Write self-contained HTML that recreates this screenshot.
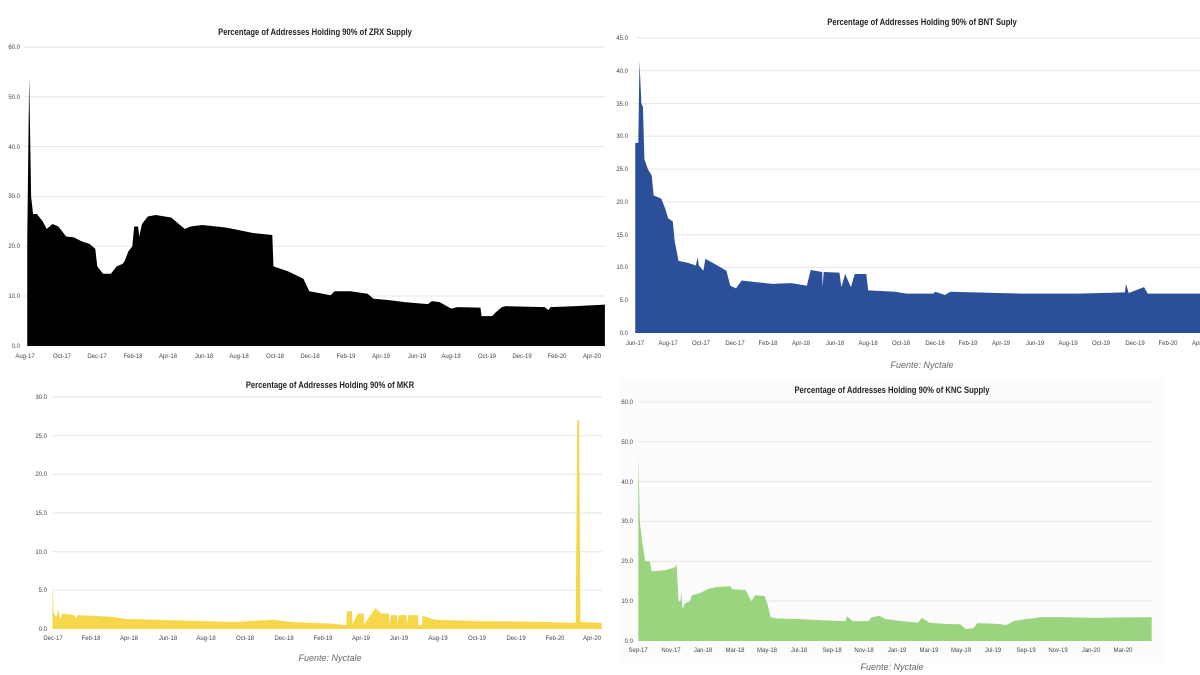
<!DOCTYPE html>
<html><head><meta charset="utf-8"><style>
html,body{margin:0;padding:0;background:#fff;}
svg{display:block;font-family:"Liberation Sans",sans-serif;}
.t{font-weight:bold;font-size:9px;fill:#222;}
.y{font-size:6px;fill:#444;}
.x{font-size:6px;fill:#444;}
.f{font-size:9px;font-style:italic;fill:#666;}
.g{stroke:#e6e6e6;stroke-width:1;}
</style></head><body>
<svg width="1200" height="675" viewBox="0 0 1200 675" xmlns="http://www.w3.org/2000/svg">
<rect width="1200" height="675" fill="#fff"/>
<rect x="620" y="378" width="545" height="285" fill="#fcfcfc"/>

<!-- Chart 1 ZRX -->
<text class="t" x="315" y="35" text-anchor="middle" transform="translate(315,0) scale(0.85,1) translate(-315,0)">Percentage of Addresses Holding 90% of ZRX Supply</text>
<g class="g">
<line x1="24" x2="605" y1="47" y2="47"/><line x1="24" x2="605" y1="96.8" y2="96.8"/><line x1="24" x2="605" y1="146.6" y2="146.6"/><line x1="24" x2="605" y1="196.4" y2="196.4"/><line x1="24" x2="605" y1="246.2" y2="246.2"/><line x1="24" x2="605" y1="296" y2="296"/>
</g>
<g class="y" text-anchor="end">
<text x="20" y="49">60.0</text><text x="20" y="99">50.0</text><text x="20" y="149">40.0</text><text x="20" y="198">30.0</text><text x="20" y="248">20.0</text><text x="20" y="298">10.0</text><text x="20" y="348">0.0</text>
</g>
<g transform="matrix(0.389,0,0,-4.98,0,346)">
<path fill="#000" d="M70,0 L70,21 75,54 80,30 85,26.5 95,26.5 110,25 120,23.5 135,24.5 150,24 170,22 190,21.8 210,21 230,20.5 245,19.5 250,16 265,14.5 285,14.5 300,16 315,16.5 320,17 330,19 340,20 345,24 355,24 358,22 365,24.5 380,26 400,26.3 440,25.8 475,23.5 490,24 520,24.3 580,23.8 600,23.5 650,22.7 700,22.3 703,16 740,15 780,13.5 795,11 850,10.2 860,11 900,11 945,10.5 960,9.5 1000,9.2 1040,8.8 1100,8.4 1110,9 1130,8.8 1160,7.5 1175,7.8 1235,7.7 1238,6 1265,6 1275,6.8 1290,7.8 1300,8 1400,7.8 1410,7.2 1415,7.8 1480,8 1555,8.3 L1555,0 Z"/>
</g>
<g class="x" text-anchor="middle">
<text x="25" y="358">Aug-17</text><text x="62" y="358">Oct-17</text><text x="97" y="358">Dec-17</text><text x="133" y="358">Feb-18</text><text x="168" y="358">Apr-18</text><text x="204" y="358">Jun-18</text><text x="239" y="358">Aug-18</text><text x="275" y="358">Oct-18</text><text x="310" y="358">Dec-18</text><text x="346" y="358">Feb-19</text><text x="381" y="358">Apr-19</text><text x="417" y="358">Jun-19</text><text x="451" y="358">Aug-19</text><text x="487" y="358">Oct-19</text><text x="522" y="358">Dec-19</text><text x="557" y="358">Feb-20</text><text x="592" y="358">Apr-20</text>
</g>

<!-- Chart 2 BNT -->
<text class="t" x="922" y="25" text-anchor="middle" transform="translate(922,0) scale(0.85,1) translate(-922,0)">Percentage of Addresses Holding 90% of BNT Suply</text>
<g class="g">
<line x1="635" x2="1200" y1="38" y2="38"/><line x1="635" x2="1200" y1="70.8" y2="70.8"/><line x1="635" x2="1200" y1="103.6" y2="103.6"/><line x1="635" x2="1200" y1="136.3" y2="136.3"/><line x1="635" x2="1200" y1="169.1" y2="169.1"/><line x1="635" x2="1200" y1="201.9" y2="201.9"/><line x1="635" x2="1200" y1="234.7" y2="234.7"/><line x1="635" x2="1200" y1="267.4" y2="267.4"/><line x1="635" x2="1200" y1="300.2" y2="300.2"/>
</g>
<g class="y" text-anchor="end">
<text x="628" y="40">45.0</text><text x="628" y="73">40.0</text><text x="628" y="106">35.0</text><text x="628" y="138">30.0</text><text x="628" y="171">25.0</text><text x="628" y="204">20.0</text><text x="628" y="237">15.0</text><text x="628" y="269">10.0</text><text x="628" y="302">5.0</text><text x="628" y="335">0.0</text>
</g>
<g transform="matrix(0.3831,0,0,-6.556,600,333)">
<path fill="#2c4f9a" d="M92,0 L92,29 100,29 103,41.5 108,35 112,34.5 116,26.5 125,25 135,24 140,21 160,20.5 170,19 178,17.5 190,17 195,14 205,11 230,10.7 250,10.3 255,11.5 258,10.3 270,9.5 275,11.3 300,10.5 330,9.5 340,7.2 355,6.8 370,8 400,7.8 450,7.5 500,7.6 540,7.2 550,9.6 580,9.3 581,7 584,9.3 625,9.2 630,7 640,9 655,7 665,9 695,9 700,6.5 770,6.3 800,6 870,6 875,6.3 900,5.8 915,6.3 1100,6 1250,6 1370,6.2 1373,7.5 1380,6.1 1420,7 1430,6 1568,6 L1568,0 Z"/>
</g>
<g class="x" text-anchor="middle">
<text x="635" y="345">Jun-17</text><text x="668" y="345">Aug-17</text><text x="701" y="345">Oct-17</text><text x="735" y="345">Dec-17</text><text x="768" y="345">Feb-18</text><text x="801" y="345">Apr-18</text><text x="835" y="345">Jun-18</text><text x="868" y="345">Aug-18</text><text x="901" y="345">Oct-18</text><text x="935" y="345">Dec-18</text><text x="968" y="345">Feb-19</text><text x="1001" y="345">Apr-19</text><text x="1035" y="345">Jun-19</text><text x="1068" y="345">Aug-19</text><text x="1101" y="345">Oct-19</text><text x="1135" y="345">Dec-19</text><text x="1168" y="345">Feb-20</text><text x="1201" y="345">Apr-20</text>
</g>
<text class="f" x="922" y="368" text-anchor="middle">Fuente: Nyctale</text>

<!-- Chart 3 MKR -->
<text class="t" x="330" y="388" text-anchor="middle" transform="translate(330,0) scale(0.85,1) translate(-330,0)">Percentage of Addresses Holding 90% of MKR</text>
<g class="g">
<line x1="52" x2="602" y1="397" y2="397"/><line x1="52" x2="602" y1="435.7" y2="435.7"/><line x1="52" x2="602" y1="474.3" y2="474.3"/><line x1="52" x2="602" y1="513" y2="513"/><line x1="52" x2="602" y1="551.7" y2="551.7"/><line x1="52" x2="602" y1="590.3" y2="590.3"/>
</g>
<g class="y" text-anchor="end">
<text x="47" y="399">30.0</text><text x="47" y="438">25.0</text><text x="47" y="476">20.0</text><text x="47" y="515">15.0</text><text x="47" y="554">10.0</text><text x="47" y="592">5.0</text><text x="47" y="631">0.0</text>
</g>
<g transform="matrix(0.389,0,0,-7.73,0,629)">
<path fill="#f7d74a" d="M135,0 L135,6 138,2 145,1.5 150,2.5 155,1.2 160,2 190,1.8 195,1.4 200,1.8 280,1.6 300,1.5 320,1.3 400,1.2 500,1.05 600,0.9 700,1.2 750,0.9 850,0.7 890,0.5 892,2.3 905,2.3 906,0.6 920,2.0 935,2.0 936,0.6 965,2.7 980,2.0 1000,2 1001,0.6 1005,1.8 1020,1.8 1021,0.6 1025,1.8 1045,1.8 1046,0.6 1050,1.8 1075,1.8 1076,0.5 1085,0.5 1086,1.7 1120,1.2 1240,1.0 1300,1.0 1400,0.9 1480,0.8 1484,27 1489,27 1492,0.9 1547,0.8 L1547,0 Z"/>
</g>
<g class="x" text-anchor="middle">
<text x="53" y="640">Dec-17</text><text x="91" y="640">Feb-18</text><text x="129" y="640">Apr-18</text><text x="168" y="640">Jun-18</text><text x="206" y="640">Aug-18</text><text x="245" y="640">Oct-18</text><text x="284" y="640">Dec-18</text><text x="323" y="640">Feb-19</text><text x="361" y="640">Apr-19</text><text x="399" y="640">Jun-19</text><text x="438" y="640">Aug-19</text><text x="477" y="640">Oct-19</text><text x="516" y="640">Dec-19</text><text x="555" y="640">Feb-20</text><text x="592" y="640">Apr-20</text>
</g>
<text class="f" x="330" y="661" text-anchor="middle">Fuente: Nyctale</text>

<!-- Chart 4 KNC -->
<text class="t" x="892" y="393" text-anchor="middle" transform="translate(892,0) scale(0.85,1) translate(-892,0)">Percentage of Addresses Holding 90% of KNC Supply</text>
<g class="g">
<line x1="638" x2="1152" y1="402" y2="402"/><line x1="638" x2="1152" y1="441.8" y2="441.8"/><line x1="638" x2="1152" y1="481.6" y2="481.6"/><line x1="638" x2="1152" y1="521.4" y2="521.4"/><line x1="638" x2="1152" y1="561.2" y2="561.2"/><line x1="638" x2="1152" y1="601" y2="601"/>
</g>
<g class="y" text-anchor="end">
<text x="633" y="404">60.0</text><text x="633" y="444">50.0</text><text x="633" y="484">40.0</text><text x="633" y="523">30.0</text><text x="633" y="563">20.0</text><text x="633" y="603">10.0</text><text x="633" y="643">0.0</text>
</g>
<g transform="matrix(0.3831,0,0,-3.98,600,641)">
<path fill="#9ad47f" d="M100,0 L100,47 104,30 110,25 118,20 130,20 135,17.5 170,17.8 195,18.5 200,19.2 205,10 210,10 212,12.5 215,8 222,9.5 235,10 240,11.5 260,12 280,13 300,13.5 340,13.8 345,13 380,12.8 395,10 405,11.5 430,11.3 438,9 445,6 460,5.7 520,5.5 580,5.2 640,5.0 645,6.2 660,5 700,5 710,6 730,6.3 745,5.5 790,5 830,4.6 840,5.8 860,4.6 900,4.3 940,4.2 955,3 975,3.2 985,4.5 1040,4.3 1060,4.0 1080,5 1110,5.5 1130,5.7 1150,6 1200,6 1300,5.8 1340,5.9 1440,6 L1440,0 Z"/>
</g>
<g class="x" text-anchor="middle">
<text x="638" y="652">Sep-17</text><text x="671" y="652">Nov-17</text><text x="703" y="652">Jan-18</text><text x="735" y="652">Mar-18</text><text x="767" y="652">May-18</text><text x="799" y="652">Jul-18</text><text x="832" y="652">Sep-18</text><text x="864" y="652">Nov-18</text><text x="897" y="652">Jan-19</text><text x="929" y="652">Mar-19</text><text x="961" y="652">May-19</text><text x="993" y="652">Jul-19</text><text x="1026" y="652">Sep-19</text><text x="1058" y="652">Nov-19</text><text x="1091" y="652">Jan-20</text><text x="1123" y="652">Mar-20</text>
</g>
<text class="f" x="892" y="670" text-anchor="middle">Fuente: Nyctale</text>
</svg>
</body></html>
